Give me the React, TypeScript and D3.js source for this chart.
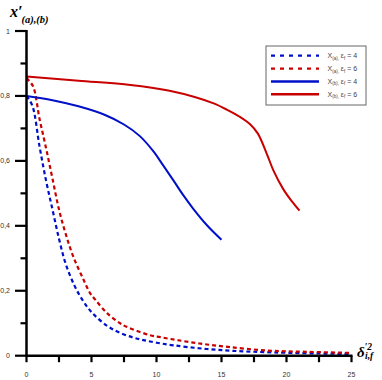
import React, { useRef, useEffect } from "react";
import * as d3 from "d3";

// dashed curves: x_(a)
const aEps4X = [0, 0.45, 1, 1.5, 2, 2.5, 3, 3.7, 4.4, 5.1, 6.2, 7.1, 8.2, 9, 10, 11.3, 13.5, 15.9, 19, 23.6, 25];
const aEps4Y = [0.8, 0.77, 0.645, 0.54, 0.45, 0.36, 0.285, 0.215, 0.166, 0.13, 0.092, 0.072, 0.056, 0.048, 0.04, 0.032, 0.022, 0.015, 0.01, 0.006, 0.005];
const aEps6X = [0, 0.5, 1, 1.5, 2, 2.5, 3, 3.6, 4.4, 4.9, 5.3, 6.2, 7.2, 7.7, 9.5, 10.3, 11.6, 13.4, 15.5, 18.5, 21.5, 24.7, 25];
const aEps6Y = [0.855, 0.83, 0.73, 0.64, 0.545, 0.45, 0.377, 0.305, 0.233, 0.192, 0.172, 0.131, 0.1, 0.089, 0.063, 0.057, 0.048, 0.037, 0.027, 0.016, 0.012, 0.009, 0.009];

// solid curves: x_(b)
const bEps4X = [0, 2, 4, 6, 7.5, 8.7, 9.75, 10.5, 11.3, 12.1, 12.8, 13.9, 15];
const bEps4Y = [0.8, 0.787, 0.768, 0.742, 0.712, 0.677, 0.63, 0.587, 0.54, 0.492, 0.454, 0.401, 0.357];
const bEps6X = [0, 4, 8, 11, 13, 14.4, 15.4, 16.4, 17.2, 17.8, 18.5, 19, 19.75, 20.4, 21];
const bEps6Y = [0.86, 0.847, 0.834, 0.816, 0.796, 0.777, 0.758, 0.736, 0.713, 0.684, 0.62, 0.57, 0.513, 0.476, 0.447];

const xTicks = [0, 5, 10, 15, 20, 25];
const yTicks = [0, 0.2, 0.4, 0.6, 0.8, 1];

const series = [
  { sub: "(a)", eps: "4", xs: aEps4X, ys: aEps4Y, color: "#0010c8", dashed: true },
  { sub: "(a)", eps: "6", xs: aEps6X, ys: aEps6Y, color: "#c80000", dashed: true },
  { sub: "(b)", eps: "4", xs: bEps4X, ys: bEps4Y, color: "#0010c8", dashed: false },
  { sub: "(b)", eps: "6", xs: bEps6X, ys: bEps6Y, color: "#c80000", dashed: false },
];

function App() {
  const svgRef = useRef(null);

  useEffect(() => {
    const svg = d3.select(svgRef.current);
    svg.selectAll("*").remove();

    const x = d3.scaleLinear().domain([0, 25]).range([26.5, 351.5]);
    const y = d3.scaleLinear().domain([0, 1]).range([355.7, 31]);

    // curves
    const line = d3
      .line<[number, number]>()
      .x((d) => x(d[0]))
      .y((d) => y(d[1]))
      .curve(d3.curveCatmullRom.alpha(0.5));

    series.forEach((s) => {
      const pts = s.xs.map((v, i) => [v, s.ys[i]] as [number, number]);
      svg
        .append("path")
        .attr("d", line(pts))
        .attr("fill", "none")
        .attr("stroke", s.color)
        .attr("stroke-width", s.dashed ? 2.2 : 2)
        .attr("stroke-dasharray", s.dashed ? "4,3" : null);
    });

    // axes
    const fmt = (d) => String(d).replace(".", ",");
    const font = "'Liberation Sans', Arial, sans-serif";

    const yAxis = svg.append("g").attr("transform", `translate(${x(0)},0)`);
    yAxis
      .selectAll(".minor")
      .data(d3.range(0.1, 1, 0.2))
      .join("line")
      .attr("x1", -6)
      .attr("x2", 0)
      .attr("y1", (d) => y(d))
      .attr("y2", (d) => y(d))
      .attr("stroke", "#000")
      .attr("stroke-width", 2.2);
    yAxis
      .selectAll(".major")
      .data(yTicks)
      .join("line")
      .attr("x1", -11.5)
      .attr("x2", 0)
      .attr("y1", (d) => y(d))
      .attr("y2", (d) => y(d))
      .attr("stroke", "#000")
      .attr("stroke-width", 2.2);
    yAxis
      .selectAll("text")
      .data(yTicks)
      .join("text")
      .attr("x", -16.5)
      .attr("y", (d) => y(d) + 2.5)
      .attr("text-anchor", "end")
      .attr("font-family", font)
      .attr("font-size", 7)
      .attr("fill", "#333")
      .text(fmt);
    yAxis
      .append("line")
      .attr("x1", 0)
      .attr("x2", 0)
      .attr("y1", y(1) - 1)
      .attr("y2", y(0) + 1)
      .attr("stroke", "#000")
      .attr("stroke-width", 2.5);

    const xAxis = svg.append("g").attr("transform", `translate(0,${y(0)})`);
    xAxis
      .selectAll(".tick")
      .data(d3.range(0, 25.1, 2.5))
      .join("line")
      .attr("x1", (d) => x(d))
      .attr("x2", (d) => x(d))
      .attr("y1", 0)
      .attr("y2", 6.5)
      .attr("stroke", "#000")
      .attr("stroke-width", 2.2);
    xAxis
      .selectAll("text")
      .data(xTicks)
      .join("text")
      .attr("x", (d) => x(d))
      .attr("y", 21.5)
      .attr("text-anchor", "middle")
      .attr("font-family", font)
      .attr("font-size", 7)
      .attr("fill", "#333")
      .text(fmt);
    xAxis
      .append("line")
      .attr("x1", x(0) - 1)
      .attr("x2", x(25) + 1)
      .attr("y1", 0)
      .attr("y2", 0)
      .attr("stroke", "#000")
      .attr("stroke-width", 2.5);

    // axis titles
    const serif = "'Liberation Serif', 'Times New Roman', serif";
    const yt = svg
      .append("text")
      .attr("x", 10)
      .attr("y", 17)
      .attr("font-family", serif)
      .attr("font-style", "italic")
      .attr("font-weight", "bold");
    yt.append("tspan").attr("font-size", 16).text("x′");
    yt.append("tspan").attr("font-size", 10.5).attr("dy", 6).attr("dx", -1).text("(a),(b)");

    const xt = svg
      .append("text")
      .attr("x", 357)
      .attr("y", 357)
      .attr("font-family", serif)
      .attr("font-style", "italic")
      .attr("font-weight", "bold");
    xt.append("tspan").attr("font-size", 15).text("δ");
    xt.append("tspan").attr("font-size", 9.5).attr("dy", -7).text("′2");
    xt.append("tspan").attr("font-size", 9.5).attr("x", 365).attr("dy", 8.5).text("i,f");

    // legend
    const lg = svg.append("g");
    lg.append("rect")
      .attr("x", 266)
      .attr("y", 46)
      .attr("width", 100)
      .attr("height", 59)
      .attr("fill", "#fff")
      .attr("stroke", "#666")
      .attr("stroke-width", 1);
    const rowY = d3.scalePoint().domain(series.map((_, i) => String(i))).range([55.7, 94.3]);
    series.forEach((s, i) => {
      const ry = rowY(String(i));
      lg.append("line")
        .attr("x1", 271)
        .attr("x2", 319)
        .attr("y1", ry)
        .attr("y2", ry)
        .attr("stroke", s.color)
        .attr("stroke-width", s.dashed ? 2.2 : 2.5)
        .attr("stroke-dasharray", s.dashed ? "4,5" : null);
      const t = lg
        .append("text")
        .attr("x", 327.5)
        .attr("y", ry + 2.5)
        .attr("font-family", font)
        .attr("font-size", 7)
        .attr("fill", "#444");
      t.append("tspan").text("X");
      t.append("tspan").attr("font-size", 4.5).attr("dy", 1.5).text(s.sub + ",");
      t.append("tspan").attr("dy", -1.5).text(" ε");
      t.append("tspan").attr("font-size", 4.5).attr("dy", 1.5).text("f");
      t.append("tspan").attr("dy", -1.5).text(" = " + s.eps);
    });
  }, []);

  return (
    <svg
      ref={svgRef}
      width={382}
      height={380}
      style={{ position: "absolute", left: 0, top: 0, background: "#fff" }}
    ></svg>
  );
}

export default App;
